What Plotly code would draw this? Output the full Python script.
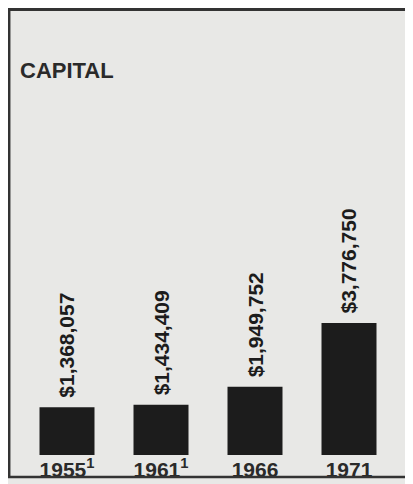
import plotly.graph_objects as go

years = ["1955", "1961", "1966", "1971"]
year_labels = ["1955<sup>1</sup>", "1961<sup>1</sup>", "1966", "1971"]
capital = [1368057, 1434409, 1949752, 3776750]
value_labels = ["$1,368,057", "$1,434,409", "$1,949,752", "$3,776,750"]

# page is drawn with an 8px body margin, so the figure is 8px smaller
W, H = 405, 476
ml, mr, mt, mb = 12, 17, 0, 29
plot_h = H - mt - mb
plot_w = W - ml - mr

def px_x(px):
    return (px - ml) / plot_w

def px_y(py):
    return (H - mb - py) / plot_h

bg = "#e8e8e6"
ink = "#1c1c1c"
font_fam = "Liberation Sans, Arial, sans-serif"

fig = go.Figure(go.Bar(
    x=years, y=capital,
    marker=dict(color=ink, line=dict(width=0)),
    hoverinfo="x+y",
))

for i, (v, lab) in enumerate(zip(capital, value_labels)):
    fig.add_annotation(x=i, y=v, xref="x", yref="y", text="<b>" + lab + "</b>",
                       textangle=-90, showarrow=False, yanchor="bottom", xanchor="center",
                       yshift=7, font=dict(family=font_fam, size=21, color=ink))

fig.update_layout(
    width=W, height=H,
    margin=dict(l=ml, r=mr, t=mt, b=mb),
    paper_bgcolor=bg, plot_bgcolor=bg,
    bargap=0.415,
    showlegend=False,
    title=dict(text="<b>CAPITAL</b>", x=12 / W, xanchor="left", xref="container",
               y=1 - 62 / H, yanchor="middle", yref="container",
               font=dict(family=font_fam, size=22, color="#2a2a2a")),
    xaxis=dict(type="category", categoryorder="array", categoryarray=years,
               tickmode="array", tickvals=years, ticktext=year_labels, showgrid=False,
               zeroline=False, showline=False, ticks="",
               tickfont=dict(family=font_fam, size=21, color="#2a2a2a", weight="bold")),
    yaxis=dict(range=[0, 12.79e6], visible=False, showgrid=False, zeroline=False),
    shapes=[
        dict(type="line", xref="paper", yref="paper", x0=px_x(0), x1=px_x(410), y0=px_y(1.5), y1=px_y(1.5),
             line=dict(color="#333", width=3)),
        dict(type="line", xref="paper", yref="paper", x0=px_x(1.2), x1=px_x(1.2), y0=px_y(0), y1=px_y(469),
             line=dict(color="#333", width=2.5)),
        dict(type="line", xref="paper", yref="paper", x0=px_x(0), x1=px_x(410), y0=px_y(469), y1=px_y(469),
             line=dict(color="#333", width=2.5)),
    ],
)

fig.write_html("out.html", config={"displayModeBar": False})
